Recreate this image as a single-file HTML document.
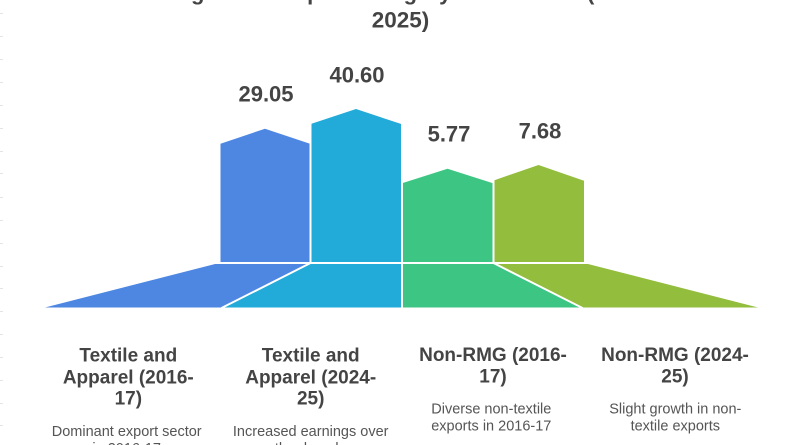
<!DOCTYPE html>
<html>
<head>
<meta charset="utf-8">
<style>
  html, body { margin:0; padding:0; background:#ffffff; }
  body { width:800px; height:445px; overflow:hidden; position:relative; }
  svg { display:block; }
  .t { font-family:"Liberation Sans", Arial, sans-serif; }
</style>
</head>
<body>
<svg width="800" height="445" viewBox="0 0 800 445" xmlns="http://www.w3.org/2000/svg">
  <rect x="0" y="0" width="800" height="445" fill="#ffffff"/>

  <!-- faint left edge ticks -->
  <g stroke="#e4e4e4" stroke-width="1">
    <line x1="0" y1="13.5" x2="3" y2="13.5"/>
    <line x1="0" y1="36.5" x2="3" y2="36.5"/>
    <line x1="0" y1="59.5" x2="3" y2="59.5"/>
    <line x1="0" y1="82.5" x2="3" y2="82.5"/>
    <line x1="0" y1="105.5" x2="3" y2="105.5"/>
    <line x1="0" y1="128.5" x2="3" y2="128.5"/>
    <line x1="0" y1="151.5" x2="3" y2="151.5"/>
    <line x1="0" y1="173.5" x2="3" y2="173.5"/>
    <line x1="0" y1="197.5" x2="3" y2="197.5"/>
    <line x1="0" y1="220.5" x2="3" y2="220.5"/>
    <line x1="0" y1="243.5" x2="3" y2="243.5"/>
    <line x1="0" y1="266.5" x2="3" y2="266.5"/>
    <line x1="0" y1="288.5" x2="3" y2="288.5"/>
    <line x1="0" y1="311.5" x2="3" y2="311.5"/>
    <line x1="0" y1="334.5" x2="3" y2="334.5"/>
    <line x1="0" y1="357.5" x2="3" y2="357.5"/>
    <line x1="0" y1="380.5" x2="3" y2="380.5"/>
    <line x1="0" y1="403.5" x2="3" y2="403.5"/>
    <line x1="0" y1="425.5" x2="3" y2="425.5"/>
  </g>

  <!-- Title (first line mostly cut off at top) -->
  <text class="t" x="400" y="0" text-anchor="middle" font-size="22" font-weight="bold" fill="#444444">Bangladesh Export Category Distribution (2016-</text>
  <text class="t" x="400.5" y="27.7" text-anchor="middle" font-size="22.5" font-weight="bold" fill="#444444">2025)</text>

  <!-- Bars -->
  <polygon points="220.5,262 220.5,143.7 265,128.7 310,143.7 310,262" fill="#4E87E2"/>
  <polygon points="310,262 310,124.3 356,109 402,124.3 402,262" fill="#22AAD8"/>
  <polygon points="402,262 402,183.3 447.5,168.7 493,183.3 493,262" fill="#3DC583"/>
  <polygon points="493,262 493,180.7 538.5,165 584,180.7 584,262" fill="#93BD3C"/>

  <!-- Base trapezoid pieces -->
  <polygon points="219,263 310,263 222,307.5 45,307.5" fill="#4E87E2"/>
  <polygon points="310,263 402,263 402,307.5 222,307.5" fill="#22AAD8"/>
  <polygon points="402,263 493,263 582,307.5 402,307.5" fill="#3DC583"/>
  <polygon points="493,263 584,263 758,307.5 582,307.5" fill="#93BD3C"/>

  <!-- white separators -->
  <g stroke="#ffffff" stroke-width="2" fill="none">
    <line x1="215" y1="263" x2="590" y2="263"/>
    <line x1="310.5" y1="100" x2="310.5" y2="263"/>
    <line x1="402" y1="100" x2="402" y2="309"/>
    <line x1="493.5" y1="100" x2="493.5" y2="263"/>
    <line x1="310.5" y1="263" x2="221.5" y2="308"/>
    <line x1="493.5" y1="263" x2="582.5" y2="308"/>
  </g>

  <!-- Value labels -->
  <g class="t" font-size="22" font-weight="bold" fill="#444444" text-anchor="middle">
    <text x="266" y="101.7">29.05</text>
    <text x="357" y="82.3">40.60</text>
    <text x="449" y="141.3">5.77</text>
    <text x="540" y="138.7">7.68</text>
  </g>

  <!-- Category headings -->
  <g class="t" font-size="19" font-weight="bold" fill="#444444" text-anchor="middle">
    <text x="128.3" y="361.7">Textile and</text>
    <text x="128.3" y="383.3">Apparel (2016-</text>
    <text x="128.3" y="404.5">17)</text>

    <text x="310.7" y="361.7">Textile and</text>
    <text x="310.7" y="383.3">Apparel (2024-</text>
    <text x="310.7" y="404.5">25)</text>

    <text x="493" y="361">Non-RMG (2016-</text>
    <text x="493" y="382.5">17)</text>

    <text x="675" y="361">Non-RMG (2024-</text>
    <text x="675" y="382.5">25)</text>
  </g>

  <!-- Descriptions -->
  <g class="t" font-size="14.5" fill="#555555" text-anchor="middle">
    <text x="126.7" y="436">Dominant export sector</text>
    <text x="126.7" y="453">in 2016-17</text>

    <text x="310.7" y="436">Increased earnings over</text>
    <text x="310.7" y="453">the decade</text>

    <text x="491.3" y="413.3">Diverse non-textile</text>
    <text x="491.3" y="430.3">exports in 2016-17</text>

    <text x="675.3" y="413.3">Slight growth in non-</text>
    <text x="675.3" y="430.3">textile exports</text>
  </g>
</svg>
</body>
</html>
